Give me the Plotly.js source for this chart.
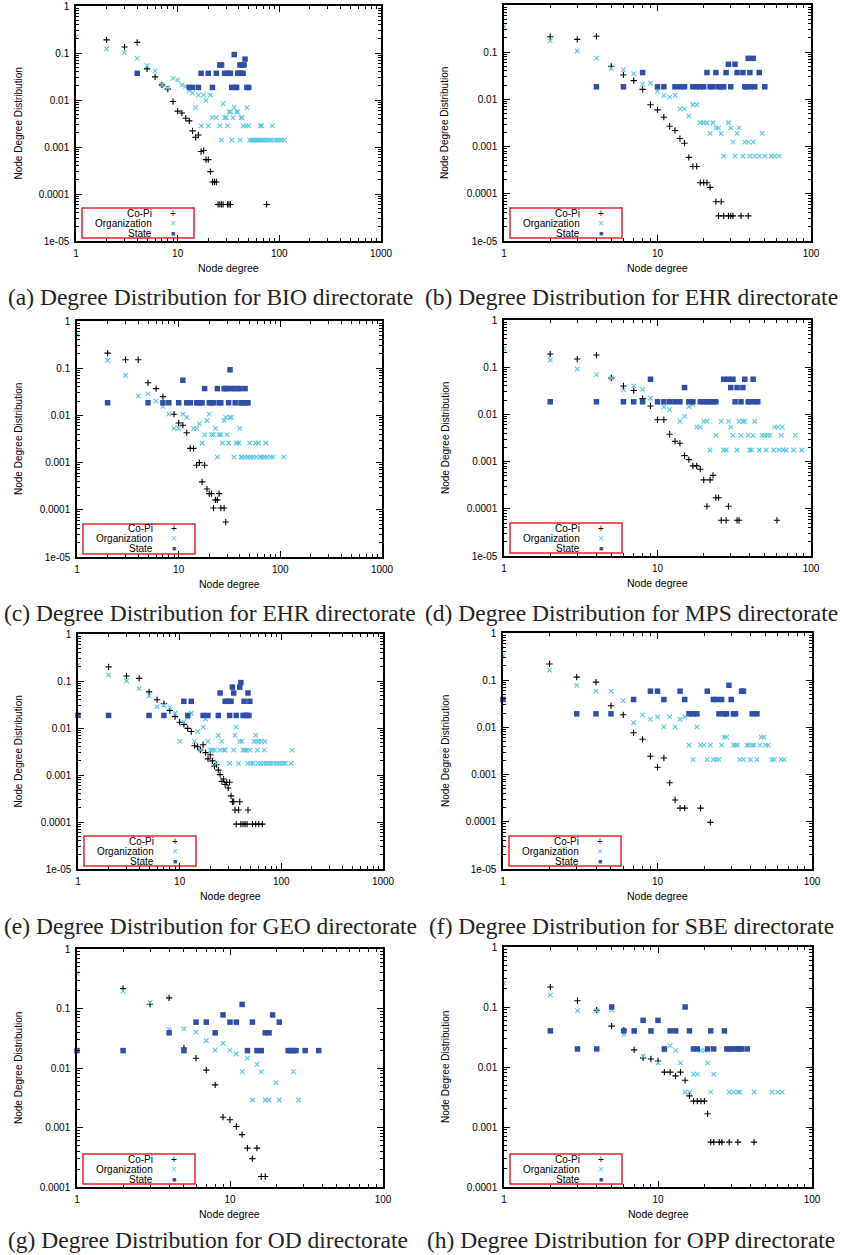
<!DOCTYPE html>
<html><head><meta charset="utf-8">
<script src="https://cdn.plot.ly/plotly-3.0.1.min.js"></script>
<style>html,body{margin:0;padding:0;background:#fff}#chart{width:844px;height:1255px}</style>
</head><body><div id="chart"></div>
<script>
// ---------- DATA (node degree -> fraction) ----------
const SERIES_NAMES = ['Co-Pi', 'Organization', 'State'];
const X_TICK_VALS = [1, 10, 100, 1000];
const X_TICK_TEXT = ['1', '10', '100', '1000'];
const Y_TICK_VALS = [1e-5, 1e-4, 1e-3, 1e-2, 1e-1, 1];
const Y_TICK_TEXT = ['1e-05', '0.0001', '0.001', '0.01', '0.1', '1'];
const CAPTIONS = [
  '(a) Degree Distribution for BIO directorate',
  '(b) Degree Distribution for EHR directorate',
  '(c) Degree Distribution for EHR directorate',
  '(d) Degree Distribution for MPS directorate',
  '(e) Degree Distribution for GEO directorate',
  '(f) Degree Distribution for SBE directorate',
  '(g) Degree Distribution for OD directorate',
  '(h) Degree Distribution for OPP directorate'
];

// (a) BIO
const bioCopiDeg = [2,3,4,5,6,7,8,9,10,11,12,13,14,15,16,17,18,19,20,21,22,23,24,25,26,27,28,31,32,33,75];
const bioCopiFrac = [0.19,0.134,0.168,0.046,0.031,0.021,0.017,0.0093,0.0058,0.0053,0.0041,0.0036,0.0022,0.0016,0.0018,0.0008,0.00084,0.00054,0.00054,0.0003,0.00018,0.00018,0.00018,6e-5,6e-5,6e-5,6e-5,6e-5,6e-5,6e-5,6e-5];
const bioOrgDeg = [1,2,3,4,5,6,7,8,9,10,11,12,13,14,15,16,17,18,19,20,21,22,24,26,27,28,29,30,31,32,33,34,35,36,38,39,41,42,43,44,47,48,50,51,53,55,57,59,61,63,65,66,67,69,72,76,80,84,85,90,95,100,105,112];
const bioOrgFrac = [0.22,0.123,0.103,0.077,0.054,0.041,0.021,0.018,0.029,0.0265,0.021,0.0194,0.016,0.014,0.0069,0.0127,0.0028,0.0127,0.0098,0.0028,0.0127,0.0042,0.0042,0.0028,0.0014,0.0084,0.0042,0.0042,0.0028,0.0056,0.0056,0.0014,0.0042,0.0069,0.0056,0.0056,0.0014,0.0042,0.0042,0.0028,0.0028,0.0069,0.0028,0.0014,0.0014,0.0014,0.0014,0.0014,0.0014,0.0014,0.0028,0.0014,0.0028,0.0014,0.0014,0.0014,0.0014,0.0014,0.0028,0.0014,0.0014,0.0014,0.0014,0.0014];
const bioStateDeg = [4,13,14,16,17,20,22,24,26,27,29,31,33,34,36,37,38,39,40,41,42,43,44,45,46,48,50];
const bioStateFrac = [0.037,0.0185,0.0185,0.0185,0.037,0.037,0.0185,0.037,0.0556,0.0556,0.037,0.037,0.037,0.0185,0.0926,0.0185,0.0185,0.037,0.037,0.0556,0.037,0.0556,0.037,0.0556,0.074,0.0185,0.0185];

// (b) EHR
const ehrCopiDeg = [2,3,4,5,6,7,8,9,10,11,12,13,14,15,16,17,18,19,20,21,22,24,25,26,27,29,30,31,35,39];
const ehrCopiFrac = [0.213,0.187,0.217,0.050,0.033,0.025,0.0163,0.0077,0.006,0.0042,0.0027,0.0022,0.00148,0.00118,0.00059,0.00038,0.00038,0.000172,0.000172,0.000172,0.000137,6.8e-5,3.4e-5,6.8e-5,3.4e-5,3.4e-5,3.4e-5,3.4e-5,3.4e-5,3.4e-5];
const ehrOrgDeg = [1,2,3,4,5,6,7,8,9,10,11,12,13,14,15,16,17,18,19,20,21,22,23,24,25,26,27,29,30,31,32,33,34,36,37,39,40,42,43,46,48,50,55,58,62];
const ehrOrgFrac = [0.353,0.173,0.106,0.075,0.0455,0.0427,0.035,0.021,0.022,0.0148,0.0122,0.0112,0.0122,0.0063,0.0063,0.0044,0.0077,0.0077,0.0032,0.0032,0.0032,0.0019,0.0032,0.0025,0.0025,0.0019,0.00063,0.0032,0.0025,0.00125,0.00063,0.0019,0.0025,0.00063,0.00125,0.00125,0.00063,0.00125,0.00063,0.00063,0.0019,0.00063,0.00063,0.00063,0.00063];
const ehrStateDeg = [4,6,8,10,11,13,14,15,17,18,19,20,21,22,23,24,25,26,27,28,29,30,32,33,36,37,38,39,40,41,42,43,46,50];
const ehrStateFrac = [0.0185,0.0185,0.037,0.0185,0.0185,0.0185,0.0185,0.0185,0.0185,0.0185,0.0185,0.0185,0.037,0.0185,0.0185,0.037,0.0185,0.0185,0.0185,0.037,0.0556,0.0185,0.0556,0.037,0.037,0.0185,0.0185,0.074,0.037,0.0185,0.074,0.0185,0.037,0.0185];

// (c) EHR (second panel)
const ehr2CopiDeg = [2,3,4,5,6,7,9,10,11,12,13,14,15,16,17,18,19,20,21,22,23,24,25,26,28,29];
const ehr2CopiFrac = [0.209,0.151,0.151,0.049,0.037,0.025,0.0106,0.0069,0.0062,0.0043,0.002,0.002,0.00088,0.001,0.00039,0.00088,0.000275,0.00022,0.00022,0.000109,0.000162,0.000162,0.00022,0.000109,0.000109,5.5e-5];
const ehr2OrgDeg = [1,2,3,4,5,6,7,8,9,10,11,12,14,15,16,17,18,19,20,21,22,23,24,25,26,27,28,29,30,31,32,33,35,37,39,40,41,42,45,48,50,51,54,57,58,61,63,66,70,72,74,80,85,108];
const ehr2OrgFrac = [0.5,0.146,0.070,0.026,0.0287,0.02,0.0155,0.0106,0.0053,0.0053,0.0106,0.0091,0.0053,0.0053,0.0066,0.0026,0.0039,0.0078,0.0106,0.0039,0.0039,0.0053,0.0013,0.0039,0.0039,0.0026,0.0078,0.0091,0.0039,0.0026,0.0091,0.0091,0.0013,0.0026,0.0026,0.0053,0.0013,0.0013,0.0013,0.0013,0.0026,0.0013,0.0013,0.0026,0.0013,0.0026,0.0013,0.0013,0.0013,0.0026,0.0013,0.0013,0.0013,0.0013];
const ehr2StateDeg = [2,5,7,8,10,11,12,13,15,16,17,18,20,21,22,24,25,26,28,29,30,31,32,33,35,36,38,40,41,42,45,46,48];
const ehr2StateFrac = [0.0185,0.0185,0.0185,0.0185,0.0185,0.0556,0.0185,0.0185,0.0185,0.0185,0.0185,0.037,0.0185,0.0185,0.0185,0.037,0.0185,0.0185,0.037,0.037,0.037,0.0185,0.0926,0.037,0.037,0.0185,0.037,0.037,0.0185,0.0185,0.037,0.0185,0.0185];

// (d) MPS
const mpsCopiDeg = [2,3,4,5,6,7,8,9,10,11,12,13,14,15,16,17,18,19,20,21,22,23,24,25,26,28,29,33,34,60];
const mpsCopiFrac = [0.19,0.149,0.181,0.059,0.040,0.032,0.0216,0.0151,0.0077,0.0077,0.0038,0.0027,0.00244,0.00134,0.0011,0.00081,0.00081,0.00069,0.00041,0.000113,0.00041,0.00051,0.000172,0.000172,5.7e-5,5.7e-5,0.000113,5.7e-5,5.7e-5,5.7e-5];
const mpsOrgDeg = [1,2,3,4,5,6,7,8,9,10,11,12,14,15,16,17,18,19,20,21,22,24,26,27,28,29,30,31,33,34,35,36,37,39,40,41,42,43,46,48,50,51,52,54,57,58,61,62,64,65,66,69,77,79,87];
const mpsOrgFrac = [0.247,0.142,0.0916,0.0695,0.059,0.033,0.040,0.034,0.022,0.0177,0.0144,0.0126,0.0071,0.0091,0.0146,0.0163,0.0054,0.0054,0.0071,0.0071,0.00176,0.0036,0.0071,0.00176,0.00176,0.0071,0.0054,0.0036,0.00176,0.0071,0.0036,0.0071,0.0071,0.0036,0.00176,0.00176,0.0036,0.0071,0.00176,0.0036,0.0036,0.00176,0.0036,0.0036,0.00176,0.0054,0.0054,0.00176,0.0036,0.0054,0.00176,0.00176,0.00176,0.0036,0.00176];
const mpsStateDeg = [2,4,6,7,8,9,10,11,12,13,14,15,16,17,19,20,21,22,23,24,27,29,30,31,32,33,35,36,37,39,40,42,43,45];
const mpsStateFrac = [0.0185,0.0185,0.0185,0.0185,0.0185,0.0556,0.0185,0.0185,0.0185,0.0185,0.0185,0.037,0.0185,0.0185,0.0185,0.0185,0.0185,0.0185,0.0185,0.0185,0.0556,0.0556,0.037,0.0556,0.0185,0.037,0.0185,0.037,0.0556,0.0185,0.0185,0.0556,0.0185,0.0185];

// (e) GEO
const geoCopiDeg = [2,3,4,5,6,7,8,9,10,11,12,13,14,15,16,17,18,19,20,21,22,23,24,25,26,27,28,29,30,31,32,33,34,35,36,38,39,40,42,44,46,47,52,56,60,65];
const geoCopiFrac = [0.20,0.128,0.114,0.0586,0.040,0.033,0.0235,0.0175,0.0133,0.0119,0.0098,0.0084,0.0042,0.0040,0.0034,0.0044,0.0030,0.0022,0.0027,0.002,0.00155,0.00167,0.00127,0.00102,0.00073,0.00082,0.00063,0.00069,0.00053,0.0007,0.00036,0.00027,0.00027,0.00018,9e-5,0.00018,0.00027,9e-5,9e-5,9e-5,9e-5,0.00018,9e-5,9e-5,9e-5,9e-5];
const geoOrgDeg = [1,2,3,4,5,6,7,8,9,10,11,12,13,14,15,16,17,18,19,20,21,22,23,24,25,26,27,28,31,34,35,36,38,39,41,42,44,46,47,49,50,53,54,56,57,58,59,60,63,64,67,68,69,71,75,79,84,89,94,98,105,110,125,128];
const geoOrgFrac = [0.216,0.135,0.10,0.069,0.048,0.0286,0.0305,0.0272,0.0206,0.0052,0.0135,0.0167,0.0206,0.0052,0.0084,0.0034,0.0104,0.0154,0.0052,0.0034,0.0034,0.0034,0.00176,0.007,0.0034,0.0052,0.0034,0.0034,0.00176,0.0034,0.007,0.0104,0.00176,0.0052,0.0052,0.0034,0.0034,0.0034,0.00176,0.0034,0.00176,0.00176,0.0052,0.007,0.0052,0.0034,0.00176,0.0052,0.00176,0.0052,0.00176,0.0034,0.0052,0.00176,0.00176,0.00176,0.00176,0.00176,0.00176,0.00176,0.00176,0.00176,0.00176,0.0034];
const geoStateDeg = [1,2,5,7,11,12,13,17,19,24,25,28,30,31,32,33,34,36,39,40,42,43,44,46,47,48,49];
const geoStateFrac = [0.0185,0.0185,0.0185,0.0185,0.037,0.0185,0.037,0.0185,0.0185,0.0185,0.0556,0.037,0.037,0.0185,0.037,0.074,0.0556,0.0185,0.074,0.0926,0.0185,0.037,0.0185,0.0185,0.0556,0.0185,0.037];

// (f) SBE
const sbeCopiDeg = [2,3,4,5,6,7,8,9,10,11,12,13,14,15,19,22];
const sbeCopiFrac = [0.221,0.116,0.091,0.0287,0.0185,0.0077,0.0056,0.00244,0.00143,0.00225,0.00067,0.00029,0.000195,0.000195,0.000195,9.7e-5];
const sbeOrgDeg = [1,2,3,4,5,6,7,8,9,10,11,12,13,14,15,16,17,18,19,20,21,22,23,24,25,26,27,28,31,32,33,34,36,38,39,40,41,42,44,46,47,49,50,52,55,57,63,66];
const sbeOrgFrac = [0.327,0.163,0.078,0.0586,0.0586,0.037,0.0126,0.0185,0.0148,0.0168,0.0103,0.0168,0.0103,0.0148,0.0168,0.0042,0.00207,0.0103,0.0042,0.0042,0.00207,0.0042,0.00207,0.00207,0.00207,0.0042,0.0062,0.0062,0.0042,0.0042,0.0042,0.00207,0.00207,0.0042,0.0042,0.00207,0.0042,0.0042,0.00207,0.0042,0.0062,0.0062,0.0042,0.0042,0.00207,0.00207,0.00207,0.00207];
const sbeStateDeg = [1,3,4,5,7,9,10,11,14,15,16,17,18,21,23,24,25,26,27,28,29,30,31,32,35,36,41,44];
const sbeStateFrac = [0.039,0.0194,0.0194,0.0194,0.039,0.0586,0.0586,0.039,0.0586,0.039,0.0194,0.0194,0.0194,0.0586,0.039,0.039,0.0194,0.039,0.0194,0.0194,0.078,0.039,0.0194,0.0194,0.0586,0.0586,0.0194,0.0194];

// (g) OD
const odCopiDeg = [2,3,4,5,6,7,8,9,10,11,12,13,14,15,16,17];
const odCopiFrac = [0.217,0.118,0.151,0.0217,0.0146,0.0092,0.0052,0.00149,0.00135,0.00104,0.00076,0.00045,0.0003,0.00045,0.00015,0.00015];
const odOrgDeg = [1,2,3,4,5,6,7,8,9,10,11,12,13,14,15,16,17,18,20,21,26,28];
const odOrgFrac = [0.39,0.196,0.125,0.044,0.046,0.040,0.029,0.020,0.026,0.020,0.0172,0.0087,0.0146,0.0029,0.0115,0.0087,0.0029,0.0029,0.0057,0.0029,0.0087,0.0029];
const odStateDeg = [1,2,4,5,6,7,8,9,10,11,12,13,14,15,16,17,18,19,21,24,25,26,27,31,38];
const odStateFrac = [0.0196,0.0196,0.039,0.0196,0.059,0.059,0.039,0.078,0.059,0.059,0.117,0.0196,0.059,0.0196,0.0196,0.039,0.039,0.078,0.059,0.0196,0.0196,0.0196,0.0196,0.0196,0.0196];

// (h) OPP
const oppCopiDeg = [2,3,4,5,6,7,8,9,10,11,12,13,14,15,16,17,18,19,20,21,22,23,25,26,29,33,42];
const oppCopiFrac = [0.215,0.127,0.0885,0.048,0.041,0.0193,0.0142,0.0136,0.0126,0.0082,0.0082,0.0071,0.0082,0.006,0.0033,0.0027,0.0027,0.0027,0.0027,0.00166,0.00056,0.00056,0.00056,0.00056,0.00056,0.00056,0.00056];
const oppOrgDeg = [1,2,3,4,5,6,7,8,9,10,11,12,13,14,15,16,17,18,19,20,21,22,23,29,31,33,34,42,55,60,64];
const oppOrgFrac = [0.25,0.158,0.087,0.087,0.0896,0.0345,0.0387,0.0151,0.0387,0.0117,0.019,0.0228,0.019,0.0117,0.0038,0.0038,0.0076,0.0076,0.019,0.019,0.0117,0.0038,0.0076,0.0038,0.0038,0.0038,0.0038,0.0038,0.0038,0.0038,0.0038];
const oppStateDeg = [2,3,4,5,6,7,8,9,10,11,12,13,15,16,17,18,21,22,23,27,28,29,30,32,33,34,35,38];
const oppStateFrac = [0.04,0.02,0.02,0.1,0.04,0.04,0.06,0.04,0.06,0.02,0.04,0.04,0.1,0.04,0.02,0.02,0.02,0.04,0.02,0.04,0.02,0.02,0.02,0.02,0.02,0.02,0.02,0.02];

// ---------- LAYOUT / STYLE ----------
const W = 844, H = 1255;
const PANELS = [
  {L:76,  R:381, T:6,   B:241,  xmax:1000, ymin:1e-5, capX:210, capY:297,  deg:[bioCopiDeg,bioOrgDeg,bioStateDeg],   frac:[bioCopiFrac,bioOrgFrac,bioStateFrac]},
  {L:504, R:811, T:5,   B:241,  xmax:100,  ymin:1e-5, capX:631, capY:297,  deg:[ehrCopiDeg,ehrOrgDeg,ehrStateDeg],   frac:[ehrCopiFrac,ehrOrgFrac,ehrStateFrac]},
  {L:77,  R:382, T:321, B:557,  xmax:1000, ymin:1e-5, capX:210, capY:613,  deg:[ehr2CopiDeg,ehr2OrgDeg,ehr2StateDeg],frac:[ehr2CopiFrac,ehr2OrgFrac,ehr2StateFrac]},
  {L:504, R:811, T:320, B:556,  xmax:100,  ymin:1e-5, capX:631, capY:613,  deg:[mpsCopiDeg,mpsOrgDeg,mpsStateDeg],   frac:[mpsCopiFrac,mpsOrgFrac,mpsStateFrac]},
  {L:78,  R:383, T:634, B:869,  xmax:1000, ymin:1e-5, capX:210, capY:926,  deg:[geoCopiDeg,geoOrgDeg,geoStateDeg],   frac:[geoCopiFrac,geoOrgFrac,geoStateFrac]},
  {L:503, R:812, T:633, B:869,  xmax:100,  ymin:1e-5, capX:631, capY:926,  deg:[sbeCopiDeg,sbeOrgDeg,sbeStateDeg],   frac:[sbeCopiFrac,sbeOrgFrac,sbeStateFrac]},
  {L:77,  R:383, T:949, B:1187, xmax:100,  ymin:1e-4, capX:208, capY:1240, deg:[odCopiDeg,odOrgDeg,odStateDeg],      frac:[odCopiFrac,odOrgFrac,odStateFrac]},
  {L:504, R:812, T:947, B:1187, xmax:100,  ymin:1e-4, capX:631, capY:1240, deg:[oppCopiDeg,oppOrgDeg,oppStateDeg],   frac:[oppCopiFrac,oppOrgFrac,oppStateFrac]}
];
const CYAN = '#58c6e2', BLUE = '#2f4ea8', RED = '#e4262b';
const MARKERS = [
  {symbol:'cross-thin-open', size:4.5, color:'#000', line:{color:'#000', width:1.1}},
  {symbol:'x-thin-open', size:4.5, color:CYAN, line:{color:CYAN, width:1.1}},
  {symbol:'square', size:5.5, color:BLUE, line:{color:'#3a5ab8', width:0}}
];
const SANS = 'Liberation Sans, Arial, Helvetica, sans-serif';
const SERIF = 'Liberation Serif, Times New Roman, Times, serif';
const px = v => v / W, py = v => 1 - v / H;

function minorVals(lo, hi) {
  const out = [];
  for (let e = Math.floor(Math.log10(lo)); e < Math.log10(hi); e++)
    for (let m = 2; m <= 9; m++) { const v = m * Math.pow(10, e); if (v > lo && v < hi) out.push(v); }
  return out;
}

const traces = [], shapes = [], annotations = [];
const layout = {
  width: W, height: H, autosize: false,
  margin: {l:0, r:0, t:0, b:0},
  paper_bgcolor: '#fff', plot_bgcolor: '#fff',
  showlegend: false, font: {family: SANS, size: 10, color: '#000'}
};

PANELS.forEach((p, i) => {
  const n = i === 0 ? '' : String(i + 1);
  for (let s = 0; s < 3; s++) {
    traces.push({
      type: 'scatter', mode: 'markers', name: SERIES_NAMES[s],
      x: p.deg[s], y: p.frac[s], xaxis: 'x' + n, yaxis: 'y' + n,
      marker: MARKERS[s], cliponaxis: false, hoverinfo: 'x+y+name'
    });
  }
  const xv = X_TICK_VALS.filter(v => v <= p.xmax);
  const yi = Y_TICK_VALS.map((v, k) => k).filter(k => Y_TICK_VALS[k] >= p.ymin);
  const common = {
    type: 'log', showline: true, linecolor: '#000', linewidth: 1.5, mirror: 'allticks',
    ticks: 'inside', ticklen: 6, tickwidth: 1, tickcolor: '#000',
    showgrid: false, zeroline: false, fixedrange: true,
    tickfont: {family: SANS, size: 10, color: '#000'}
  };
  layout['xaxis' + n] = Object.assign({}, common, {
    domain: [px(p.L), px(p.R)], anchor: 'y' + n,
    range: [0, Math.log10(p.xmax)], tickmode: 'array',
    tickvals: xv, ticktext: xv.map(v => X_TICK_TEXT[X_TICK_VALS.indexOf(v)]),
    ticklabelstandoff: 2,
    minor: {tickmode: 'array', tickvals: minorVals(1, p.xmax), ticks: 'inside', ticklen: 3, tickwidth: 1, tickcolor: '#000', showgrid: false}
  });
  layout['yaxis' + n] = Object.assign({}, common, {
    domain: [py(p.B), py(p.T)], anchor: 'x' + n,
    range: [Math.log10(p.ymin), 0], tickmode: 'array',
    tickvals: yi.map(k => Y_TICK_VALS[k]), ticktext: yi.map(k => Y_TICK_TEXT[k]),
    ticklabelstandoff: 3,
    minor: {tickmode: 'array', tickvals: minorVals(p.ymin, 1), ticks: 'inside', ticklen: 3, tickwidth: 1, tickcolor: '#000', showgrid: false}
  });

  // axis titles and caption
  annotations.push({xref:'paper', yref:'paper', x: px((p.L + p.R) / 2), y: py(p.B + 27), text: 'Node degree',
    showarrow: false, xanchor: 'center', yanchor: 'middle', font: {family: SANS, size: 10.5, color: '#000'}});
  annotations.push({xref:'paper', yref:'paper', x: px(p.L < 300 ? 18 : 445), y: py((p.T + p.B) / 2), text: 'Node Degree Distribution',
    textangle: -90, showarrow: false, xanchor: 'center', yanchor: 'middle', font: {family: SANS, size: 10, color: '#000'}});
  annotations.push({xref:'paper', yref:'paper', x: px(p.capX), y: py(p.capY), text: CAPTIONS[i],
    showarrow: false, xanchor: 'center', yanchor: 'middle', font: {family: SERIF, size: 23.5, color: '#222'}});

  // key box
  shapes.push({type:'rect', xref:'paper', yref:'paper', x0: px(p.L + 6), x1: px(p.L + 118), y0: py(p.B - 3), y1: py(p.B - 33),
    line: {color: RED, width: 1.5}, fillcolor: 'rgba(0,0,0,0)'});
  const rows = [p.B - 28, p.B - 18, p.B - 8];
  const glyphs = [
    {t: '+', c: '#000', s: 10},
    {t: '×', c: CYAN, s: 10},
    {t: '■', c: BLUE, s: 7}
  ];
  for (let s = 0; s < 3; s++) {
    annotations.push({xref:'paper', yref:'paper', x: px(p.L + 78), y: py(rows[s]), text: SERIES_NAMES[s],
      showarrow: false, xanchor: 'right', yanchor: 'middle', font: {family: SANS, size: 10, color: '#000'}});
    annotations.push({xref:'paper', yref:'paper', x: px(p.L + 97), y: py(rows[s]), text: glyphs[s].t,
      showarrow: false, xanchor: 'center', yanchor: 'middle', font: {family: SANS, size: glyphs[s].s, color: glyphs[s].c}});
  }
});
layout.shapes = shapes;
layout.annotations = annotations;

Plotly.newPlot('chart', traces, layout, {displayModeBar: false, staticPlot: false});
</script></body></html>
